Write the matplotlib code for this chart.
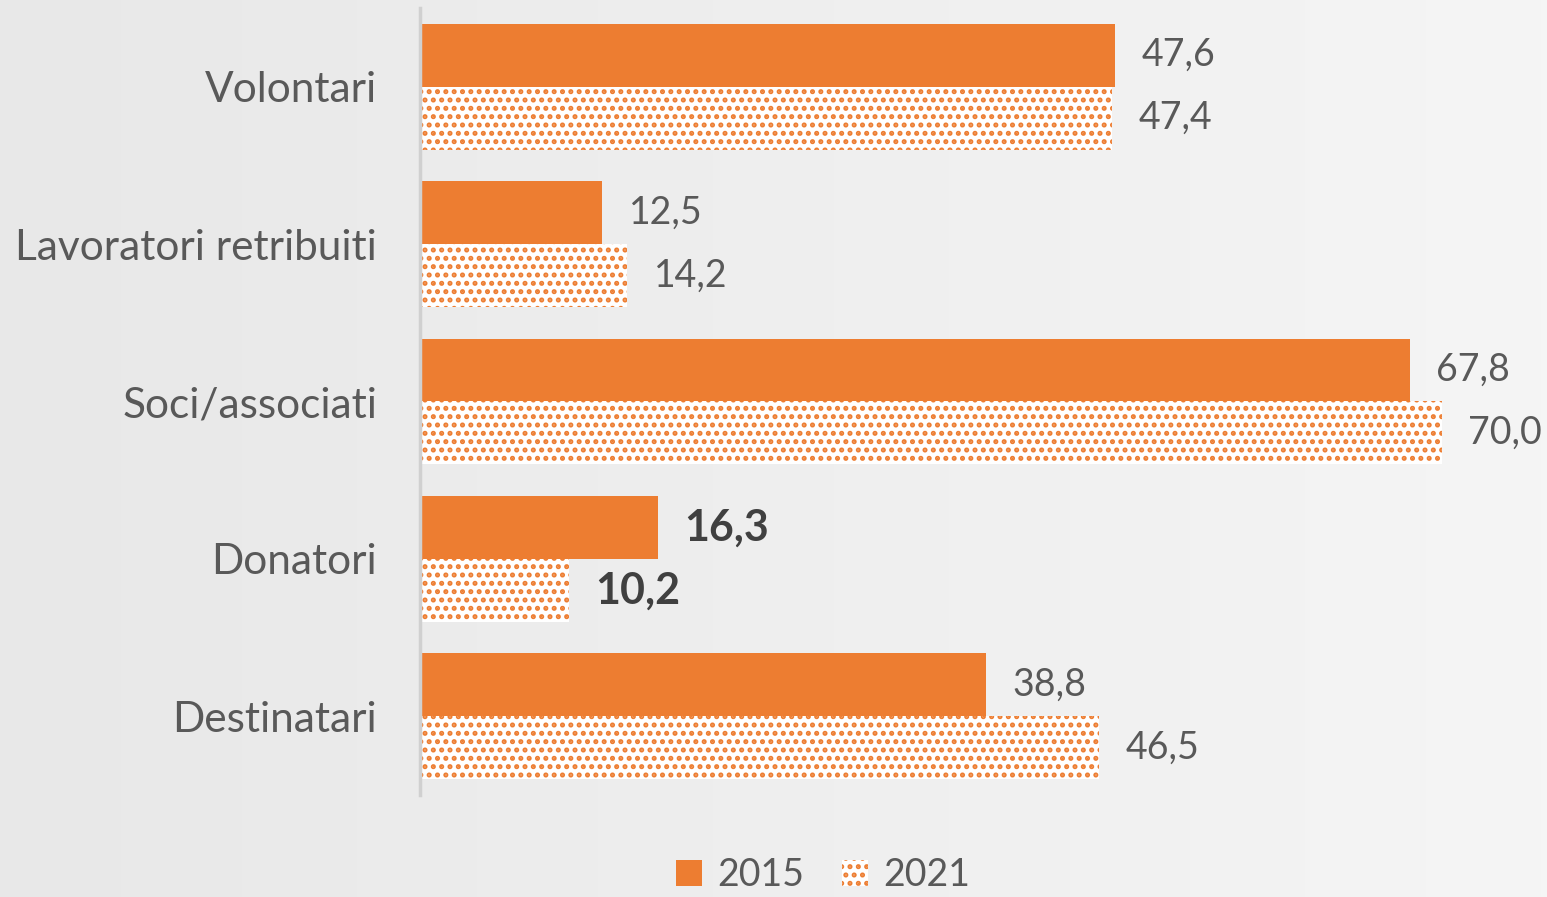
import matplotlib
matplotlib.use("Agg")
import matplotlib.pyplot as plt
import numpy as np

categories = ["Volontari", "Lavoratori retribuiti", "Soci/associati", "Donatori", "Destinatari"]
values_2015 = [47.6, 12.5, 67.8, 16.3, 38.8]
values_2021 = [47.4, 14.2, 70.0, 10.2, 46.5]
bold_rows = ["Donatori"]

orange = "#ED7D31"
text_col = "#595959"
plt.rcParams["font.family"] = ["Lato", "DejaVu Sans"]
plt.rcParams["hatch.linewidth"] = 2.4

fig = plt.figure(figsize=(15.47, 8.97), dpi=100)

# background gradient, darker on the left
bg = fig.add_axes([0, 0, 1, 1], zorder=-10)
grad = np.linspace(0, 1, 256).reshape(1, -1)
bg.imshow(grad, aspect="auto", cmap=matplotlib.colors.LinearSegmentedColormap.from_list(
    "bg", ["#e8e8e8", "#f5f5f5"]), extent=[0, 1, 0, 1])
bg.axis("off")

ax = fig.add_axes([420 / 1547, 1 - 795 / 897, 1127 / 1547, 787 / 897])
ax.patch.set_alpha(0)

y = np.arange(len(categories))
h = 0.4
ax.barh(y - h / 2, values_2015, height=h, color=orange, label="2015")
ax.barh(y + h / 2, values_2021, height=h, facecolor="white", edgecolor=orange,
        hatch="..", linewidth=0, label="2021")

for i, cat in enumerate(categories):
    bold = cat in bold_rows
    for val, off in ((values_2015[i], -h / 2), (values_2021[i], h / 2)):
        ax.annotate(f"{val:.1f}".replace(".", ","), xy=(val, y[i] + off),
                    xytext=(19, 0), textcoords="offset points", va="center", ha="left",
                    fontsize=31 if bold else 27, fontweight="bold" if bold else "normal",
                    color="#404040" if bold else text_col)

ax.set_xlim(0, 1127 / 14.6)
ax.set_ylim(len(categories) - 0.5, -0.5)
ax.set_yticks(y)
ax.set_yticklabels(categories, fontsize=30.5, color=text_col)
ax.tick_params(axis="y", length=0, pad=31)
ax.set_xticks([])
for s in ["top", "right", "bottom"]:
    ax.spines[s].set_visible(False)
ax.spines["left"].set_color("#d0d0d0")
ax.spines["left"].set_linewidth(2.5)

fig.legend(loc="center", bbox_to_anchor=(0.532, 0.024), ncol=2, frameon=False,
           fontsize=27, labelcolor=text_col, handlelength=0.7, handleheight=0.7,
           columnspacing=1.0, handletextpad=0.4)

fig.savefig("out.png", dpi=100)
